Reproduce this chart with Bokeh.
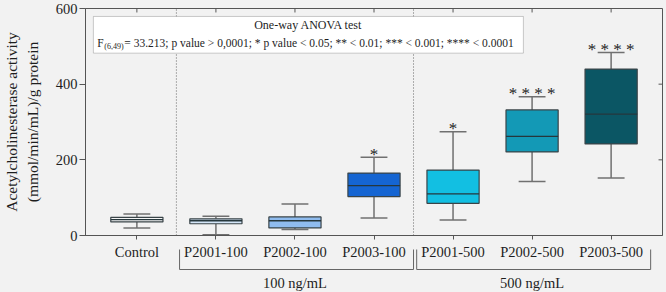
from bokeh.plotting import figure
from bokeh.layouts import column
from bokeh.models import Range1d, FixedTicker, BoxAnnotation, Label
from bokeh.core.properties import value
from bokeh.embed import file_html
from bokeh.resources import INLINE

# ---------------- data ----------------
categories = ["Control", "P2001-100", "P2002-100", "P2003-100",
              "P2001-500", "P2002-500", "P2003-500"]
whisker_low = [20, 2, 16, 46, 41, 143, 152]
q1 = [36, 31, 20, 103, 85, 221, 242]
median = [42, 39, 39, 132, 110, 262, 321]
q3 = [48, 44, 49, 165, 173, 332, 440]
whisker_high = [57, 51, 83, 207, 274, 367, 484]
stars = ["", "", "", "*", "*", "* * * *", "* * * *"]
box_colors = ["#f4f4f4", "#d4e6f8", "#8fbcef", "#1565d2",
              "#12bfe2", "#1399b6", "#0b5664"]
groups = ["100 ng/mL", "500 ng/mL"]
group_first = [1, 4]
group_last = [3, 6]
y_ticks = [0, 200, 400, 600]
anova_title = "One-way ANOVA test"
anova_F = "F"
anova_df = "(6,49)"
anova_rest = " = 33.213; p  value > 0,0001; * p value < 0.05; ** < 0.01; *** < 0.001; **** < 0.0001"
y_label = "Acetylcholinesterase activity\n(mmol/min/mL)/g protein"

# ---------------- style / layout ----------------
FONT = "Liberation Serif"
BG = "#f2f2f2"
EDGE = "#555555"
TXT = "#1e1e1e"
W = 666
BL, BR, BT = 80, 4, 8
FRAME_H = 228
MAIN_BB = 26
H_MAIN = BT + FRAME_H + MAIN_BB
H_LOW = 56
YMAX = 600
XMIN, XMAX = -0.65, len(categories) - 0.35
ppu = FRAME_H / YMAX
ppx = (W - BL - BR) / (XMAX - XMIN)

idx = list(range(len(categories)))
xr = Range1d(XMIN, XMAX)

p = figure(width=W, height=H_MAIN, x_range=xr, y_range=Range1d(0, YMAX),
           output_backend="svg", toolbar_location=None,
           min_border_left=BL, min_border_right=BR, min_border_top=BT,
           min_border_bottom=MAIN_BB, background_fill_color=BG, border_fill_color=BG,
           outline_line_color=EDGE)
p.grid.visible = False

# axes
xa = p.xaxis[0]
xa.ticker = FixedTicker(ticks=idx)
xa.major_label_overrides = {i: c for i, c in zip(idx, categories)}
xa.major_label_text_font = FONT
xa.major_label_text_font_size = "14.5px"
xa.major_label_text_color = TXT
xa.major_tick_in = 0
xa.major_tick_out = 4
xa.major_label_standoff = 4
xa.minor_tick_line_color = None
xa.axis_line_color = EDGE
xa.major_tick_line_color = EDGE

ya = p.yaxis[0]
ya.ticker = FixedTicker(ticks=y_ticks)
ya.major_label_text_font = FONT
ya.major_label_text_font_size = "14.5px"
ya.major_label_text_color = TXT
ya.major_tick_in = 0
ya.major_tick_out = 6
ya.major_label_standoff = 2
ya.minor_tick_line_color = None
ya.axis_line_color = EDGE
ya.major_tick_line_color = EDGE
ya.axis_label = y_label
ya.axis_label_text_font = FONT
ya.axis_label_text_font_size = "15.5px"
ya.axis_label_text_font_style = "normal"
ya.axis_label_text_color = TXT
ya.axis_label_text_line_height = 1.2
ya.axis_label_standoff = 12

# inward mirror ticks on top and right edges of the frame
tick_len = 4
p.segment(x0=idx, y0=[YMAX] * len(idx), x1=idx, y1=[YMAX - tick_len / ppu] * len(idx),
          line_color=EDGE, line_width=1)
inner_y = y_ticks[1:-1]
p.segment(x0=[XMAX] * len(inner_y), y0=inner_y, x1=[XMAX - tick_len / ppx] * len(inner_y),
          y1=inner_y, line_color=EDGE, line_width=1)

# dotted group separators
sep = [f - 0.5 for f in group_first]
p.segment(x0=sep, y0=[0] * len(sep), x1=sep, y1=[YMAX] * len(sep),
          line_color="#666666", line_dash="1 2", line_width=1)

# whiskers
WC = "#707070"
p.segment(x0=idx, y0=q3, x1=idx, y1=whisker_high, line_color=WC, line_width=1.5)
p.segment(x0=idx, y0=q1, x1=idx, y1=whisker_low, line_color=WC, line_width=1.5)
cap = 0.17
p.segment(x0=[i - cap for i in idx], y0=whisker_high, x1=[i + cap for i in idx],
          y1=whisker_high, line_color=WC, line_width=1.5)
p.segment(x0=[i - cap for i in idx], y0=whisker_low, x1=[i + cap for i in idx],
          y1=whisker_low, line_color=WC, line_width=1.5)

# boxes
bw = 0.66
p.vbar(x=idx, width=bw, bottom=q1, top=q3, fill_color=box_colors,
       line_color="#3a4448", line_width=1.2)
p.segment(x0=[i - bw / 2 for i in idx], y0=median, x1=[i + bw / 2 for i in idx],
          y1=median, line_color="#26373c", line_width=1.3)

# significance stars
p.text(x=idx, y=[h + 3 / ppu for h in whisker_high], text=stars, text_align="center",
       text_baseline="alphabetic", text_font=value(FONT), text_font_size="17px",
       text_color=TXT)

# ANOVA box
bx_l, bx_r, bx_t, bx_b = -0.55, 4.89, 579, 482
p.add_layout(BoxAnnotation(left=bx_l, right=bx_r, top=bx_t, bottom=bx_b,
                           fill_color="white", fill_alpha=1.0, line_color=EDGE,
                           line_width=1, level="annotation"))
p.add_layout(Label(x=(bx_l + bx_r) / 2, y=bx_t - 9 / ppu, text=anova_title,
                   text_align="center", text_baseline="middle", text_font=FONT,
                   text_font_size="12px", text_color=TXT))
line2_y = bx_t - 27 / ppu
x2 = bx_l + 0.05
p.add_layout(Label(x=x2, y=line2_y, text=anova_F, text_align="left",
                   text_baseline="middle", text_font=FONT, text_font_size="11.5px",
                   text_color=TXT))
p.add_layout(Label(x=x2, y=line2_y - 3 / ppu, x_offset=7, text=anova_df,
                   text_align="left", text_baseline="middle", text_font=FONT,
                   text_font_size="8px", text_color=TXT))
p.add_layout(Label(x=x2, y=line2_y, x_offset=27, text=anova_rest, text_align="left",
                   text_baseline="middle", text_font=FONT, text_font_size="11.5px",
                   text_color=TXT))

# ---------------- lower strip: group brackets (pixel units below frame bottom) ----
low = figure(width=W, height=H_LOW, x_range=xr, y_range=Range1d(-H_LOW, 0),
             output_backend="svg", toolbar_location=None,
             x_axis_location=None, y_axis_location=None,
             min_border_left=BL, min_border_right=BR, min_border_top=0,
             min_border_bottom=0, background_fill_color=None, border_fill_color=None,
             outline_line_color=None)
low.grid.visible = False
low.margin = (-MAIN_BB, 0, 0, 0)

b_top, b_bot, g_y = -13, -33, -46
xs, ys = [], []
for f, l in zip(group_first, group_last):
    xl, xrr = f - 0.46, l + 0.5
    xs.append([xl, xl, xrr, xrr])
    ys.append([b_top, b_bot, b_bot, b_top])
low.multi_line(xs=xs, ys=ys, line_color="#666666", line_width=1)
low.text(x=[(f + l) / 2 for f, l in zip(group_first, group_last)], y=[g_y] * len(groups),
         text=groups, text_align="center", text_baseline="middle",
         text_font=value(FONT), text_font_size="14.5px", text_color=TXT)

layout = column(p, low, spacing=0, styles={"background-color": BG})
open("out.html", "w").write(file_html(layout, INLINE))
